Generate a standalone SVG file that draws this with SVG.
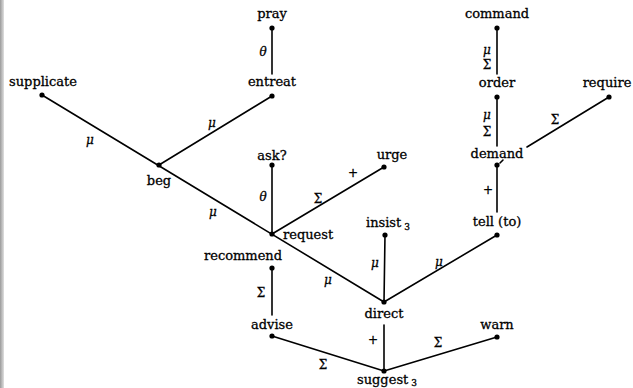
<svg xmlns="http://www.w3.org/2000/svg" width="633" height="388" viewBox="0 0 633 388">
<defs>
<linearGradient id="bar" x1="0" x2="1" y1="0" y2="0">
<stop offset="0" stop-color="#9a9a9a"/><stop offset="1" stop-color="#e0e0e0"/>
</linearGradient>
</defs>
<style>
.t{font-family:"DejaVu Serif","Liberation Serif",serif;font-size:13px;fill:#000;stroke:#000;stroke-width:0.3;text-anchor:middle}
.l{font-family:"DejaVu Serif","Liberation Serif",serif;font-size:12px;fill:#000;stroke:#000;stroke-width:0.3;text-anchor:middle;dominant-baseline:central}
.g{font-style:italic}
.e line{stroke:#000;stroke-width:1.6;stroke-linecap:round}
.d{fill:#000}
.s{font-size:9px}
</style>
<rect x="0" y="0" width="633" height="388" fill="#fff"/>
<rect x="0" y="0" width="4" height="388" fill="url(#bar)"/>
<g id="connectors" class="e">
<line x1="272" y1="28" x2="272" y2="74"/>
<line x1="497" y1="28" x2="497" y2="74"/>
<line x1="497" y1="97" x2="497" y2="146"/>
<line x1="497" y1="165" x2="497" y2="212"/>
<line x1="609" y1="97" x2="527" y2="147"/>
<line x1="500" y1="163" x2="503" y2="160"/>
<line x1="42" y1="95" x2="384" y2="302"/>
<line x1="272" y1="96" x2="159" y2="165"/>
<line x1="272" y1="165" x2="272" y2="234"/>
<line x1="384" y1="167" x2="272" y2="234"/>
<line x1="385" y1="235" x2="384" y2="302"/>
<line x1="497" y1="235" x2="384" y2="302"/>
<line x1="272" y1="268" x2="272" y2="315"/>
<line x1="384" y1="325" x2="384" y2="371"/>
<line x1="272" y1="336" x2="384" y2="371"/>
<line x1="497" y1="337" x2="384" y2="371"/>
</g>
<g id="edge-labels">
<text class="l g" x="263" y="52">θ</text>
<text class="l g" x="487" y="50">μ</text>
<text class="l" x="487" y="65">Σ</text>
<text class="l g" x="487" y="115">μ</text>
<text class="l" x="487" y="132">Σ</text>
<text class="l" x="555" y="120">Σ</text>
<text class="l" x="488" y="190">+</text>
<text class="l g" x="90" y="140">μ</text>
<text class="l g" x="212" y="123">μ</text>
<text class="l g" x="213" y="212">μ</text>
<text class="l g" x="263" y="197">θ</text>
<text class="l" x="318" y="199">Σ</text>
<text class="l" x="353" y="173">+</text>
<text class="l g" x="328" y="280">μ</text>
<text class="l g" x="375" y="263">μ</text>
<text class="l g" x="439" y="262">μ</text>
<text class="l" x="261" y="293">Σ</text>
<text class="l" x="373" y="340">+</text>
<text class="l" x="323" y="365">Σ</text>
<text class="l" x="438" y="343">Σ</text>
</g>
<g id="pray"><circle class="d" cx="272" cy="28" r="2.6"/><text class="t" x="272" y="18">pray</text></g>
<g id="entreat"><circle class="d" cx="272" cy="96" r="2.6"/><text class="t" x="272" y="86">entreat</text></g>
<g id="supplicate"><circle class="d" cx="42" cy="95" r="2.6"/><text class="t" x="43" y="86">supplicate</text></g>
<g id="beg"><circle class="d" cx="159" cy="165" r="2.6"/><text class="t" x="159" y="185">beg</text></g>
<g id="ask"><circle class="d" cx="272" cy="165" r="2.6"/><text class="t" x="272" y="160">ask?</text></g>
<g id="urge"><circle class="d" cx="384" cy="167" r="2.6"/><text class="t" x="392" y="159">urge</text></g>
<g id="request"><circle class="d" cx="272" cy="234" r="2.6"/><text class="t" x="283" y="239" style="text-anchor:start">request</text></g>
<g id="insist3"><circle class="d" cx="385" cy="235" r="2.6"/><text class="t" x="366" y="227" style="text-anchor:start">insist<tspan class="s" dx="3" dy="3">3</tspan></text></g>
<g id="tell"><circle class="d" cx="497" cy="235" r="2.6"/><text class="t" x="497" y="226">tell (to)</text></g>
<g id="recommend"><circle class="d" cx="272" cy="268" r="2.6"/><text class="t" x="243" y="260">recommend</text></g>
<g id="direct"><circle class="d" cx="384" cy="302" r="2.6"/><text class="t" x="384" y="318">direct</text></g>
<g id="advise"><circle class="d" cx="272" cy="336" r="2.6"/><text class="t" x="272" y="329">advise</text></g>
<g id="warn"><circle class="d" cx="497" cy="337" r="2.6"/><text class="t" x="497" y="329">warn</text></g>
<g id="suggest3"><circle class="d" cx="384" cy="371" r="2.6"/><text class="t" x="357" y="384" style="text-anchor:start">suggest<tspan class="s" dx="3" dy="2">3</tspan></text></g>
<g id="command"><circle class="d" cx="497" cy="28" r="2.6"/><text class="t" x="497" y="18">command</text></g>
<g id="order"><circle class="d" cx="497" cy="97" r="2.6"/><text class="t" x="497" y="87">order</text></g>
<g id="demand"><circle class="d" cx="497" cy="165" r="2.6"/><text class="t" x="497" y="158">demand</text></g>
<g id="require"><circle class="d" cx="609" cy="97" r="2.6"/><text class="t" x="607" y="87">require</text></g>
</svg>
